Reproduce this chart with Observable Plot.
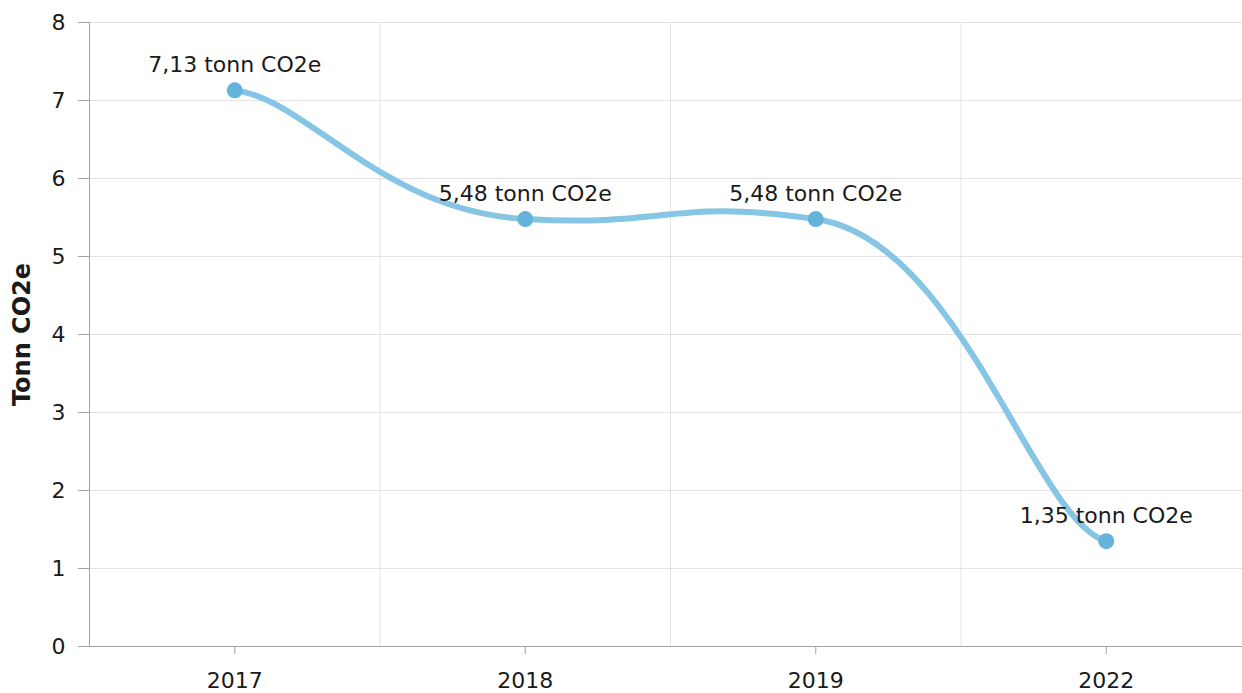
<!DOCTYPE html>
<html>
<head>
<meta charset="utf-8">
<script src="https://cdn.jsdelivr.net/npm/d3@7"></script>
<script src="https://cdn.jsdelivr.net/npm/@observablehq/plot@0.6"></script>
<style>
  html, body { margin: 0; padding: 0; background: #fff; overflow: hidden; }
</style>
</head>
<body>
<div id="chart"></div>
<script>
// ---- data ----
const years = ["2017", "2018", "2019", "2022"];
const values = [7.13, 5.48, 5.48, 1.35];
const labels = ["7,13 tonn CO2e", "5,48 tonn CO2e", "5,48 tonn CO2e", "1,35 tonn CO2e"];
const yTicks = [0, 1, 2, 3, 4, 5, 6, 7, 8];
const yTitle = "Tonn CO2e";

const data = years.map((year, i) => ({i, year, value: values[i], label: labels[i]}));
const xTicks = years.map((_, i) => i);
const boundaries = years.slice(1).map((_, i) => i + 0.5);

// Smoothed spline: cubic Bézier segments whose control points follow the
// neighbouring points (separate horizontal / vertical tension).
function smoothCurve(kx, ky) {
  return function (context) {
    let pts = [];
    return {
      areaStart() {},
      areaEnd() {},
      lineStart() { pts = []; },
      point(x, y) { pts.push([+x, +y]); },
      lineEnd() {
        const n = pts.length;
        if (!n) return;
        context.moveTo(pts[0][0], pts[0][1]);
        for (let i = 0; i < n - 1; i++) {
          const p0 = pts[Math.max(0, i - 1)], p1 = pts[i], p2 = pts[i + 1], p3 = pts[Math.min(n - 1, i + 2)];
          context.bezierCurveTo(
            p1[0] + kx * (p2[0] - p0[0]), p1[1] + ky * (p2[1] - p0[1]),
            p2[0] - kx * (p3[0] - p1[0]), p2[1] - ky * (p3[1] - p1[1]),
            p2[0], p2[1]
          );
        }
      }
    };
  };
}

const axisColor = "#a3a3a3";
const gridColor = "#e3e3e3";
const textColor = "#1a1a1a";

const chart = Plot.plot({
  width: 1242,
  height: 693,
  marginTop: 22,
  marginBottom: 47,
  marginLeft: 89,
  marginRight: 0,
  style: {fontFamily: "'DejaVu Sans', Verdana, sans-serif", fontSize: "22px", color: textColor, background: "#fff"},
  x: {domain: [-0.5, years.length - 0.5], range: [89, 1251]},
  y: {domain: [0, 8], range: [646, 22]},
  marks: [
    Plot.gridY(yTicks, {stroke: gridColor, strokeOpacity: 1}),
    Plot.ruleX(boundaries, {stroke: gridColor, strokeOpacity: 1}),
    Plot.ruleX([-0.5], {stroke: axisColor}),
    Plot.ruleY([0], {stroke: axisColor}),
    Plot.axisY(yTicks, {tickSize: 11, tickPadding: 13, tickFormat: (d) => String(d), stroke: axisColor, fill: textColor, label: null, fontSize: 22}),
    Plot.axisX(xTicks, {tickSize: 8, tickPadding: 18, tickFormat: (i) => years[i], stroke: axisColor, fill: textColor, label: null, fontSize: 22}),
    Plot.line(data, {x: "i", y: "value", stroke: "#86c5e3", strokeWidth: 6, curve: smoothCurve(0.25, 0.065)}),
    Plot.dot(data, {x: "i", y: "value", r: 8, fill: "#64b3db", stroke: "none"}),
    Plot.text(data, {x: "i", y: "value", text: "label", dy: -18, lineAnchor: "bottom", fontSize: 22, fill: textColor}),
    Plot.text([yTitle], {frameAnchor: "left", dx: -67, rotate: -90, textAnchor: "middle", fontWeight: "bold", fontSize: 24, fill: textColor})
  ]
});
document.getElementById("chart").appendChild(chart);
</script>
</body>
</html>
